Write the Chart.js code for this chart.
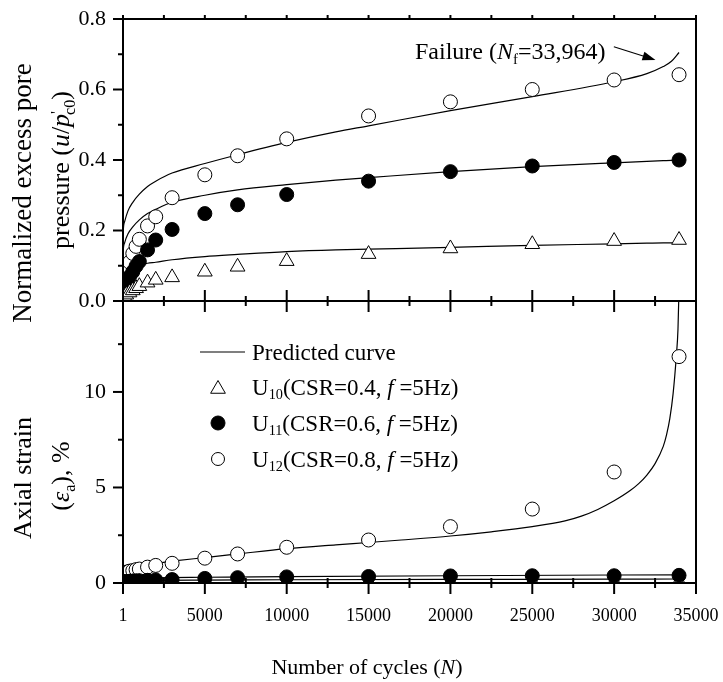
<!DOCTYPE html>
<html><head><meta charset="utf-8">
<script src="https://cdn.jsdelivr.net/npm/chart.js@4.4.0/dist/chart.umd.min.js"></script>
<style>
html,body{margin:0;padding:0;background:#fff;}
#wrap{position:relative;width:723px;height:682px;overflow:hidden;font-family:"Liberation Serif","Times New Roman",serif;color:#000;}
canvas{position:absolute;left:0;top:0;}
.t{position:absolute;white-space:nowrap;line-height:1;}
.rot{transform:translate(-50%,-50%) rotate(-90deg);}
.mid{transform:translateY(-50%);}
.ctr{transform:translate(-50%,-50%);}
sub{font-size:62%;vertical-align:-0.35em;line-height:0;}
sup{font-size:62%;vertical-align:0.45em;line-height:0;}
</style></head>
<body><div id="wrap">
<canvas id="cA" width="723" height="682"></canvas>
<canvas id="cB" width="723" height="682"></canvas>
<div class="t rot" style="left:22px;top:193px;font-size:27px;">Normalized excess pore</div>
<div class="t rot" style="left:61px;top:170px;font-size:26px;">pressure (<i>u</i>/<i>p</i><sup>'</sup><sub style="margin-left:-4px">c0</sub>)</div>
<div class="t rot" style="left:23px;top:478px;font-size:26px;">Axial strain</div>
<div class="t rot" style="left:61px;top:476px;font-size:26px;">(<i>ε</i><sub>a</sub>), %</div>
<div class="t ctr" style="left:367px;top:667px;font-size:22px;">Number of cycles (<i>N</i>)</div>
<div class="t mid" style="left:415px;top:51px;font-size:24px;">Failure (<i>N</i><sub>f</sub>=33,964)</div>
<div class="t mid" style="left:252px;top:352px;font-size:23px;">Predicted curve</div>
<div class="t mid" style="left:252px;top:387px;font-size:23px;">U<sub>10</sub>(CSR=0.4, <i>f</i> =5Hz)</div>
<div class="t mid" style="left:252px;top:423px;font-size:23px;">U<sub>11</sub>(CSR=0.6, <i>f</i> =5Hz)</div>
<div class="t mid" style="left:252px;top:459px;font-size:23px;">U<sub>12</sub>(CSR=0.8, <i>f</i> =5Hz)</div>
</div>
<script>
// ---------- data ----------
const cyclesTest = [1, 100, 200, 400, 600, 800, 1000, 1500, 2000, 3000, 5000, 7000, 10000, 15000, 20000, 25000, 30000, 33964];
const poreU10 = [0.005, 0.012, 0.018, 0.024, 0.03, 0.036, 0.042, 0.052, 0.06, 0.067, 0.083, 0.097, 0.113, 0.133, 0.149, 0.161, 0.17, 0.173];
const poreU11 = [0.01, 0.035, 0.05, 0.069, 0.083, 0.099, 0.112, 0.145, 0.173, 0.203, 0.248, 0.273, 0.302, 0.34, 0.367, 0.383, 0.393, 0.4];
const poreU12 = [0.02, 0.05, 0.079, 0.11, 0.135, 0.155, 0.175, 0.213, 0.239, 0.293, 0.358, 0.412, 0.46, 0.525, 0.565, 0.6, 0.627, 0.642];
const strainU10 = [0.01, 0.02, 0.025, 0.03, 0.035, 0.04, 0.04, 0.045, 0.05, 0.05, 0.06, 0.06, 0.065, 0.07, 0.07, 0.07, 0.075, 0.08];
const strainU11 = [0.02, 0.05, 0.07, 0.09, 0.1, 0.11, 0.12, 0.14, 0.16, 0.18, 0.24, 0.28, 0.32, 0.34, 0.37, 0.38, 0.38, 0.4];
const strainU12 = [0.45, 0.52, 0.57, 0.62, 0.65, 0.7, 0.73, 0.83, 0.92, 1.03, 1.3, 1.52, 1.87, 2.25, 2.95, 3.87, 5.81, 11.85];

const cyclesCurveU = [1, 20, 100, 300, 600, 1000, 1500, 2000, 3000, 5000, 7000, 10000, 13000, 15000, 20000, 25000, 30000, 32000, 33000, 33500, 33964];
const predPoreU12 = [0.16, 0.2, 0.225, 0.255, 0.28, 0.303, 0.325, 0.34, 0.363, 0.39, 0.415, 0.45, 0.48, 0.497, 0.54, 0.58, 0.622, 0.645, 0.665, 0.68, 0.705];
const predPoreU11 = [0.12, 0.145, 0.165, 0.19, 0.21, 0.23, 0.248, 0.26, 0.28, 0.3, 0.315, 0.33, 0.343, 0.35, 0.367, 0.381, 0.392, 0.396, 0.398, 0.399, 0.4];
const predPoreU10 = [0.03, 0.06, 0.08, 0.09, 0.097, 0.102, 0.107, 0.11, 0.117, 0.126, 0.132, 0.14, 0.145, 0.147, 0.152, 0.158, 0.162, 0.164, 0.165, 0.165, 0.166];

const cyclesCurveE = [1, 100, 500, 1000, 2000, 3000, 5000, 7000, 10000, 13000, 15000, 17000, 20000, 22500, 25000, 27000, 28000, 29000, 30000, 31000, 31500, 32000, 32500, 33000, 33200, 33400, 33600, 33800, 33900, 33964];
const predStrainU12 = [0.75, 0.82, 0.88, 0.93, 1.03, 1.14, 1.33, 1.52, 1.8, 2.0, 2.12, 2.25, 2.46, 2.68, 2.95, 3.25, 3.5, 3.85, 4.3, 4.85, 5.2, 5.65, 6.25, 7.15, 7.75, 8.6, 9.9, 11.9, 13.3, 15.5];
const cyclesCurveE2 = [1, 1000, 5000, 10000, 20000, 30000, 33964];
const predStrainU11 = [0.15, 0.25, 0.3, 0.33, 0.38, 0.42, 0.43];
const predStrainU10 = [0.05, 0.12, 0.15, 0.17, 0.19, 0.2, 0.21];

const xTickValues = [1, 5000, 10000, 15000, 20000, 25000, 30000, 35000];
const xTickLabels = ['1', '5000', '10000', '15000', '20000', '25000', '30000', '35000'];
const xMinorTicks = [2500, 7500, 12500, 17500, 22500, 27500, 32500];
const poreTickValues = [0, 0.2, 0.4, 0.6, 0.8];
const poreTickLabels = ['0.0', '0.2', '0.4', '0.6', '0.8'];
const poreMinorTicks = [0.1, 0.3, 0.5, 0.7];
const strainTickValues = [0, 5, 10];
const strainTickLabels = ['0', '5', '10'];
const strainMinorTicks = [2.5, 7.5, 12.5];

// ---------- helpers ----------
const FONT = '"Liberation Serif","Times New Roman",serif';
const pts = (xs, ys) => xs.map((x, i) => ({x, y: ys[i]}));
function seg(ctx, x1, y1, x2, y2) { ctx.beginPath(); ctx.moveTo(x1, y1); ctx.lineTo(x2, y2); ctx.stroke(); }
function markers(label, xs, ys, style, fill, r) {
  return {label, data: pts(xs, ys), showLine: false, pointStyle: style, pointRadius: r,
    pointBackgroundColor: fill, pointBorderColor: '#000', pointBorderWidth: 1, order: 0};
}
function curve(xs, ys) {
  return {data: pts(xs, ys), showLine: true, borderColor: '#000', borderWidth: 1.2, pointRadius: 0,
    cubicInterpolationMode: 'monotone', fill: false, order: 1};
}
function xScale(show) {
  return {type: 'linear', min: 1, max: 35000, display: show,
    afterBuildTicks: s => { s.ticks = xTickValues.map(v => ({value: v})); },
    afterFit: s => { s.height = show ? 99 : 0; s.paddingLeft = 0; s.paddingRight = 0; },
    grid: {display: false}, border: {display: false},
    ticks: {autoSkip: false, maxRotation: 0, padding: 14, color: '#000', font: {family: FONT, size: 18},
      callback: (v, i) => xTickLabels[i]}};
}
function yScale(min, max, vals, labels) {
  return {type: 'linear', min, max,
    afterBuildTicks: s => { s.ticks = vals.map(v => ({value: v})); },
    afterFit: s => { s.width = 123; s.paddingTop = 0; s.paddingBottom = 0; },
    grid: {display: false}, border: {display: false},
    ticks: {padding: 9, color: '#000', font: {family: FONT, size: 22}, callback: (v, i) => labels[i]}};
}
function frame(chart, yMajor, yMinor, drawTopTicks) {
  const {ctx, chartArea: a, scales} = chart;
  const xs = scales.x, ys = scales.y;
  ctx.save();
  ctx.strokeStyle = '#000'; ctx.lineWidth = 2;
  ctx.strokeRect(a.left, a.top, a.right - a.left, a.bottom - a.top);
  xTickValues.forEach(v => { const x = xs.getPixelForValue(v); seg(ctx, x, a.bottom - 11, x, a.bottom + 11); if (drawTopTicks) seg(ctx, x, a.top, x, a.top - 4); });
  xMinorTicks.forEach(v => { const x = xs.getPixelForValue(v); seg(ctx, x, a.bottom - 5, x, a.bottom + 5); if (drawTopTicks) seg(ctx, x, a.top, x, a.top - 4); });
  yMajor.forEach(v => { const y = ys.getPixelForValue(v); seg(ctx, a.left - 10, y, a.left, y); });
  yMinor.forEach(v => { const y = ys.getPixelForValue(v); seg(ctx, a.left - 5, y, a.left, y); });
  ctx.restore();
}

// ---------- top chart ----------
const topPlugin = {id: 'topFrame', afterDraw(chart) {
  frame(chart, poreTickValues, poreMinorTicks, true);
  const {ctx, scales: {x, y}} = chart;
  const x1 = x.getPixelForValue(29982), y1 = y.getPixelForValue(0.7214);
  const x2 = x.getPixelForValue(32524), y2 = y.getPixelForValue(0.684);
  const ang = Math.atan2(y2 - y1, x2 - x1);
  ctx.save(); ctx.strokeStyle = '#000'; ctx.fillStyle = '#000'; ctx.lineWidth = 1.2;
  seg(ctx, x1, y1, x2 - 8 * Math.cos(ang), y2 - 8 * Math.sin(ang));
  ctx.beginPath(); ctx.moveTo(x2, y2);
  ctx.lineTo(x2 - 13 * Math.cos(ang) + 4.5 * Math.sin(ang), y2 - 13 * Math.sin(ang) - 4.5 * Math.cos(ang));
  ctx.lineTo(x2 - 13 * Math.cos(ang) - 4.5 * Math.sin(ang), y2 - 13 * Math.sin(ang) + 4.5 * Math.cos(ang));
  ctx.closePath(); ctx.fill(); ctx.restore();
}};
new Chart(document.getElementById('cA'), {
  type: 'scatter',
  data: {datasets: [
    markers('U10', cyclesTest, poreU10, 'triangle', '#fff', 8.5),
    markers('U11', cyclesTest, poreU11, 'circle', '#000', 7),
    markers('U12', cyclesTest, poreU12, 'circle', '#fff', 7),
    curve(cyclesCurveU, predPoreU10), curve(cyclesCurveU, predPoreU11), curve(cyclesCurveU, predPoreU12)
  ]},
  options: {responsive: false, animation: false, events: [],
    layout: {padding: {left: 0, top: 19, right: 27, bottom: 381}},
    plugins: {legend: {display: false}, tooltip: {enabled: false}},
    scales: {x: xScale(false), y: yScale(0, 0.8, poreTickValues, poreTickLabels)}},
  plugins: [topPlugin]
});

// ---------- bottom chart ----------
const botPlugin = {id: 'botFrame', afterDraw(chart) {
  frame(chart, strainTickValues, strainMinorTicks, false);
  const ctx = chart.ctx;
  ctx.save(); ctx.strokeStyle = '#000'; ctx.lineWidth = 1.2;
  seg(ctx, 200, 352, 245, 352);
  ctx.lineWidth = 1;
  ctx.beginPath(); const r = 8.5, cx = 218, cy = 389;
  ctx.moveTo(cx, cy - r); ctx.lineTo(cx + r * 0.866, cy + r / 2); ctx.lineTo(cx - r * 0.866, cy + r / 2); ctx.closePath();
  ctx.fillStyle = '#fff'; ctx.fill(); ctx.stroke();
  ctx.beginPath(); ctx.arc(218, 423, 7, 0, Math.PI * 2); ctx.fillStyle = '#000'; ctx.fill(); ctx.stroke();
  ctx.beginPath(); ctx.arc(218, 459, 6.5, 0, Math.PI * 2); ctx.fillStyle = '#fff'; ctx.fill(); ctx.stroke();
  ctx.restore();
}};
new Chart(document.getElementById('cB'), {
  type: 'scatter',
  data: {datasets: [
    markers('U11', cyclesTest, strainU11, 'circle', '#000', 7),
    markers('U10', cyclesTest, strainU10, 'triangle', '#fff', 8.5),
    markers('U12', cyclesTest, strainU12, 'circle', '#fff', 7),
    curve(cyclesCurveE2, predStrainU10), curve(cyclesCurveE2, predStrainU11), curve(cyclesCurveE, predStrainU12)
  ]},
  options: {responsive: false, animation: false, events: [],
    layout: {padding: {left: 0, top: 301, right: 27, bottom: 0}},
    plugins: {legend: {display: false}, tooltip: {enabled: false}},
    scales: {x: xScale(true), y: yScale(0, 14.76, strainTickValues, strainTickLabels)}},
  plugins: [botPlugin]
});
</script>
</body></html>
